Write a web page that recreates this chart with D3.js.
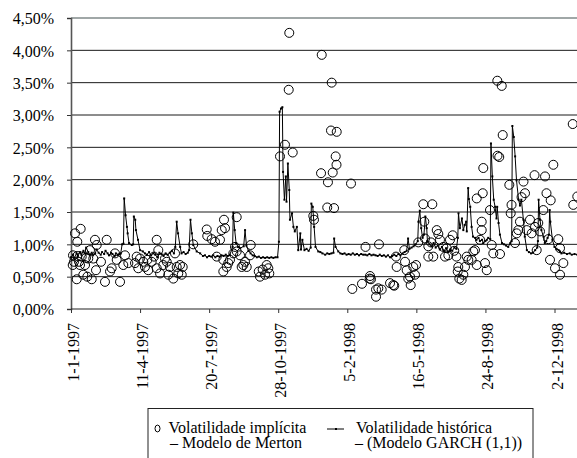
<!DOCTYPE html>
<html><head><meta charset="utf-8">
<script src="https://cdn.jsdelivr.net/npm/d3@7"></script>
</head><body style="margin:0;background:#fff">
<svg id="chart" width="577" height="458" style="display:block"></svg>
<script>
const yTicks = [0, 0.5, 1, 1.5, 2, 2.5, 3, 3.5, 4, 4.5];
const xTickLabels = ["1-1-1997","11-4-1997","20-7-1997","28-10-1997","5-2-1998","16-5-1998","24-8-1998","2-12-1998"];
const seriesNames = ["Volatilidade implícita", "– Modelo de Merton", "Volatilidade histórica", "– (Modelo GARCH (1,1))"];

// Implied volatility (Merton model): day offset from 1-1-1997, value in %
const mertonDay = [2.5,2.9,4.3,5.8,8.3,9.1,9.1,11.6,13,14,15.5,17.8,20.3,21.7,23.6,25,27.5,30,32.3,34.7,36.2,37.2,43.4,49.2,51.7,56.5,58.9,63.7,66.2,71,75.7,78.2,83,92.7,95.1,97.4,99.9,104.7,107.1,110.5,111.9,116.8,120.2,124.1,124.1,126.4,128.9,133.6,136.1,138.6,140.9,143.3,148.1,150.6,153,155.3,157.8,160.3,161.7,
177,196.5,197.3,203.7,208.5,211,215.7,218.2,220.5,220.5,221.5,223,225.4,227.7,230.2,235,237.4,239.9,239.9,244.7,247.1,249.5,251.9,254.4,259.2,260.2,271.8,273.6,277.5,280.9,283.3,285.7,287.1,
302.6,309.8,315.2,316,321,350.8,351.8,362,363,371,372,376.4,377.4,378.9,380.8,383.2,384.4,384.7,405.4,407.3,421.3,426.4,432.5,432.9,434.3,441.6,441.6,444.9,445.9,449.8,461.9,466.6,468,470.5,471.5,482.5,483.6,486,488.3,490.8,491.8,495.6,498,499.5,502.8,510,511.5,512.5,517.3,517.3,521.2,523.1,524.5,529.5,531.8,534.2,539,541.5,543.9,546.3,548.7,552.6,554.9,558,559.9,560.7,562.2,565.6,568,570.4,572.9,575.2,580.1,582.5,584.9,587.4,587.4,592.2,594.6,594.6,596.1,596.9,599.4,601.9,606.6,609.1,611.4,617.2,617.5,620,621.1,623.6,625,634.6,636.6,637.8,642.8,645.3,647.6,650,652.3,655.1,657.3,659.8,664.5,667,671.1,671.8,674.2,676.5,679,683.8,686.3,688.4,691,693.5,694.5,698.3,700.7,705.5,708,708,712.8,726.4,727.2,733];
const mertonVol = [0.68,0.83,0.73,1.17,0.46,1.04,0.82,0.73,0.68,1.24,0.81,0.53,0.68,0.79,0.50,0.78,0.91,0.46,0.78,1.07,0.60,0.99,0.73,0.42,1.07,0.58,0.63,0.86,0.76,0.42,0.68,0.83,0.71,0.71,0.81,0.63,0.78,0.73,0.65,0.76,0.60,0.73,0.81,1.07,0.63,0.91,0.55,0.68,0.78,0.73,0.53,0.65,0.47,0.86,0.65,0.55,0.68,0.53,0.65,
1.00,1.23,1.13,1.08,1.04,0.81,1.07,1.22,0.76,0.58,1.38,1.25,0.65,0.71,0.76,0.86,0.96,1.42,0.89,0.83,0.65,0.68,0.73,0.65,0.83,0.99,0.58,0.50,0.61,0.53,0.68,0.63,0.55,
2.36,2.54,3.39,4.27,2.42,1.44,1.38,2.10,3.93,1.57,1.96,2.76,3.50,2.11,1.56,2.36,2.23,2.74,1.94,0.31,0.39,0.96,0.47,0.51,0.46,0.30,0.19,0.32,1.00,0.30,0.40,0.37,0.36,0.81,0.65,0.91,0.73,0.60,0.47,0.50,0.37,0.65,0.53,0.68,1.03,1.62,1.35,1.09,0.81,0.97,1.03,1.62,0.81,1.22,1.16,1.07,0.96,0.81,0.94,0.83,1.07,1.14,0.90,0.81,0.58,0.65,0.47,0.45,0.53,0.65,0.81,0.76,0.76,0.89,0.91,0.68,1.71,1.07,1.35,1.22,1.79,2.18,0.71,0.60,1.53,0.99,0.86,3.53,2.37,2.35,0.85,3.45,2.69,1.92,1.48,1.61,1.02,1.17,1.22,1.35,1.73,1.97,1.79,1.22,1.38,1.17,2.07,1.27,0.91,1.33,1.20,1.53,2.05,1.79,1.08,0.76,1.68,2.23,0.63,1.08,0.53,0.94,0.71,2.86,1.61,1.74];

// Historical volatility (GARCH(1,1)): day offset from 1-1-1997, value in %
const garchDay = [0,3,5,8,10,13,15,18,20,22,25,27,30,32,35,37,40,43,45,48,50,53,55,58,60,63,65,68,70,72,74,76,77,79,81,82,84,88,90,91,93,94,97,100,104,107,110,113,116,119,122,125,128,131,134,137,140,143,146,149,151,153,155,158,160,163,166,169,171,173,175,177,182,187,191,194,197,200,203,206,209,212,215,218,221,224,227,230,234,235,237,239,242,245,250,252,254,257,260,263,266,269,272,275,278,281,284,287,290,293,296,299,301,302,304,306,307,309,311,312,314,316,317,320,322,324,327,329,332,333,335,338,341,344,347,348,350,352,354,358,361,364,368,371,374,377,380,381,383,387,390,393,396,399,402,405,408,411,414,417,420,423,426,429,432,435,438,441,444,447,450,453,456,459,462,465,468,471,474,477,480,483,486,488,490,493,496,499,502,503,505,507,509,511,513,515,516,519,522,525,528,531,534,537,540,543,546,549,552,555,558,560,561,563,566,568,570,572,573,575,576,578,580,582,585,587,590,592,595,597,600,602,604,607,608,610,612,614,616,617,619,621,624,627,630,633,636,638,639,641,643,645,648,650,652,655,657,660,663,666,669,672,675,676,677,679,681,684,686,688,690,692,693,694,697,700,703,706,708,710,714,718,722,725,729,733];
const garchVol = [0.80,0.84,0.79,0.86,0.82,0.88,0.84,0.90,0.86,0.95,0.88,0.84,0.87,0.83,0.86,0.92,0.87,0.84,0.88,0.85,0.90,0.86,0.83,0.87,0.85,0.82,0.86,0.84,0.85,0.86,1.00,1.01,1.71,1.45,1.27,1.17,1.02,0.99,1.00,1.43,1.38,1.22,1.07,0.91,0.89,0.86,0.84,0.88,0.83,0.86,0.84,0.80,0.87,0.85,0.82,0.86,0.84,0.87,0.90,0.86,0.96,1.35,1.17,0.96,0.86,0.88,0.85,0.87,0.91,1.38,1.17,0.99,0.89,0.86,0.82,0.83,0.80,0.82,0.81,0.83,0.80,0.82,0.81,0.83,0.82,0.84,0.82,0.84,0.96,1.49,1.22,1.02,0.96,0.94,0.97,1.22,0.98,0.90,0.86,0.83,0.82,0.80,0.81,0.79,0.80,0.79,0.80,0.79,0.80,0.79,0.80,0.80,1.04,3.05,3.10,3.12,2.12,1.69,2.05,1.66,2.25,1.84,1.38,1.48,1.27,1.20,1.27,0.91,1.17,0.92,1.07,0.91,0.93,0.90,0.95,1.63,1.58,1.27,0.96,0.89,0.88,0.86,0.84,0.86,0.85,0.86,0.87,1.09,0.96,0.89,0.86,0.85,0.86,0.84,0.85,0.84,0.86,0.84,0.85,0.83,0.85,0.84,0.84,0.83,0.85,0.83,0.84,0.83,0.82,0.84,0.82,0.83,0.81,0.83,0.80,0.82,0.84,0.82,0.85,0.83,0.86,0.88,0.90,1.09,0.93,0.95,0.97,1.00,1.05,1.35,1.52,1.25,1.10,1.15,1.43,1.25,1.05,1.00,0.97,1.02,0.95,0.98,0.92,0.96,0.90,0.94,0.88,0.92,0.90,0.95,0.93,1.10,1.48,1.25,1.40,1.22,1.30,1.35,1.20,1.87,1.70,1.58,1.27,1.12,1.10,1.07,1.10,1.05,1.07,1.02,1.05,1.07,1.10,1.08,2.56,2.05,1.69,1.58,1.40,1.58,1.33,1.15,1.02,1.00,0.98,0.96,1.02,1.05,2.83,2.66,2.36,1.99,1.69,1.60,1.69,1.38,1.12,0.91,0.88,0.86,0.87,0.91,0.95,1.05,1.69,1.38,1.22,1.12,1.02,1.05,1.10,1.15,1.53,1.35,1.07,0.96,0.93,0.91,0.89,0.86,0.87,0.85,0.86,0.84,0.85,0.84];

const FONT_LIST = "'Times New Roman', 'Liberation Serif', Tinos, Times, 'DejaVu Serif', serif";
const svg = d3.select("#chart").attr("font-family", "Times New Roman");
const W = 577;
const start = new Date(Date.UTC(1997, 0, 1));
const parseTick = d3.utcParse("%d-%m-%Y");
const tickDates = xTickLabels.map(parseTick);
const x = d3.scaleUtc().domain([start, tickDates[tickDates.length - 1]]).range([71, 554.5]);
const y = d3.scaleLinear().domain([0, 4.5]).range([309, 18]);
const dayToDate = d => new Date(start.getTime() + d * 86400000);
const serif = sel => sel.attr("font-family", "Times New Roman").style("font-family", FONT_LIST)
  .attr("font-size", 16).attr("fill", "#000");

// gridlines
svg.append("g").selectAll("line").data(yTicks.filter(v => v > 0 && v < 4.5)).join("line")
  .attr("x1", 71).attr("x2", W).attr("y1", d => y(d)).attr("y2", d => y(d))
  .attr("stroke", "#1a1a1a").attr("stroke-width", 1);
// top border
svg.append("line").attr("x1", 71).attr("x2", W).attr("y1", y(4.5)).attr("y2", y(4.5))
  .attr("stroke", "#808a8a").attr("stroke-width", 1.5);

// y axis
const yAxis = svg.append("g").attr("transform", "translate(71,0)")
  .call(d3.axisLeft(y).tickValues(yTicks).tickSize(4).tickFormat(""));
yAxis.select(".domain").attr("stroke", "#555").attr("stroke-width", 1.6);
yAxis.selectAll(".tick line").attr("stroke", "#333");
svg.append("g").selectAll("text").data(yTicks).join("text")
  .attr("x", 54).attr("y", d => y(d)).attr("dy", "0.4em").attr("text-anchor", "end")
  .call(serif)
  .text(d => d.toFixed(2).replace(".", ",") + "%");

// x axis
const xAxis = svg.append("g").attr("transform", `translate(0,${y(0)})`)
  .call(d3.axisBottom(x).tickValues(tickDates).tickSize(4).tickFormat(""));
xAxis.select(".domain").attr("stroke", "#222").attr("stroke-width", 1.2).attr("d", `M71,0H${W}`);
xAxis.selectAll(".tick line").attr("stroke", "#333");
svg.append("g").selectAll("text").data(tickDates).join("text")
  .attr("transform", d => `translate(${x(d)},${y(0) + 14}) rotate(-90)`)
  .attr("dy", "0.5em").attr("text-anchor", "end")
  .call(serif)
  .text((d, i) => xTickLabels[i]);

// GARCH line
const garch = garchDay.map((d, i) => ({date: dayToDate(d), v: garchVol[i]}));
svg.append("path").datum(garch)
  .attr("fill", "none").attr("stroke", "#000").attr("stroke-width", 1)
  .attr("d", d3.line().x(d => x(d.date)).y(d => y(d.v)));
svg.append("g").selectAll("rect").data(garch).join("rect")
  .attr("x", d => x(d.date) - 1).attr("y", d => y(d.v) - 1)
  .attr("width", 2).attr("height", 2).attr("fill", "#000");

// Merton circles
const merton = mertonDay.map((d, i) => ({date: dayToDate(d), v: mertonVol[i]}));
svg.append("g").selectAll("circle").data(merton).join("circle")
  .attr("cx", d => x(d.date)).attr("cy", d => y(d.v)).attr("r", 4.5)
  .attr("fill", "none").attr("stroke", "#000").attr("stroke-width", 1);

// legend
const lg = svg.append("g");
lg.append("rect").attr("x", 148).attr("y", 408.5).attr("width", 385).attr("height", 70)
  .attr("fill", "#fff").attr("stroke", "#222").attr("stroke-width", 1);
lg.append("ellipse").attr("cx", 157.5).attr("cy", 428.5).attr("rx", 2.5).attr("ry", 3.4)
  .attr("fill", "none").attr("stroke", "#000").attr("stroke-width", 1);
lg.append("line").attr("x1", 327).attr("x2", 344).attr("y1", 429).attr("y2", 429).attr("stroke", "#000").attr("stroke-width", 1);
lg.append("rect").attr("x", 335).attr("y", 428).attr("width", 2).attr("height", 2).attr("fill", "#000");
const lt = [[168.5, 432.5, 0], [170, 448, 1], [356, 432.5, 2], [355, 448, 3]];
lg.selectAll("text").data(lt).join("text")
  .attr("x", d => d[0]).attr("y", d => d[1])
  .call(serif)
  .text(d => seriesNames[d[2]]);
</script>
</body></html>
